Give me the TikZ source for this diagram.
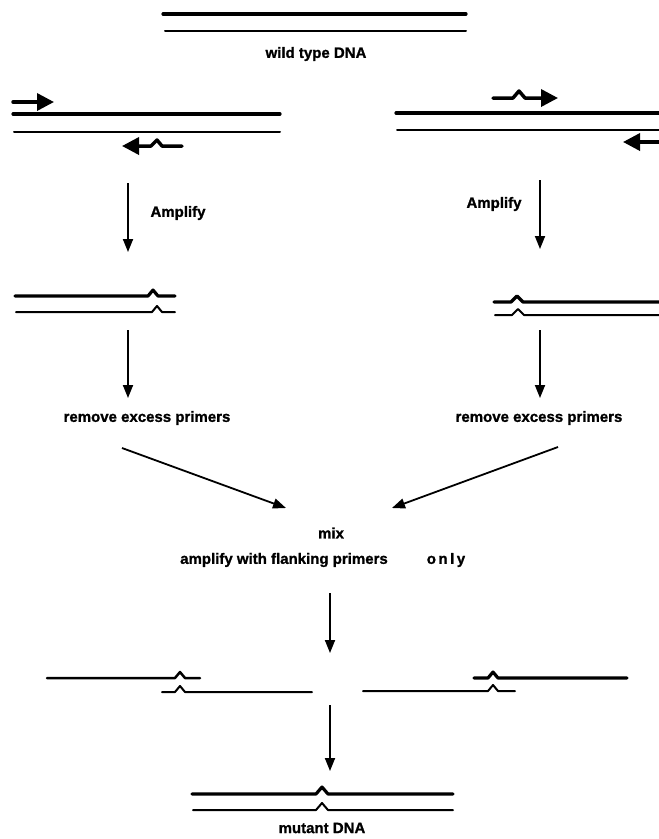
\documentclass[tikz,border=0pt]{standalone}
\usepackage{fontspec}
\setmainfont{Liberation Sans}
\newfontfamily\heavyfont[FakeBold=1.2]{Liberation Sans Bold}
\usetikzlibrary{arrows.meta}
\begin{document}
\begin{tikzpicture}[x=1pt,y=-1pt,
  thickstrand/.style={line width=3.2pt,line cap=round,line join=round},
  thinstrand/.style={line width=2pt,line cap=round,line join=round},
  midstrand/.style={line width=2.5pt,line cap=round,line join=round},
  primer/.style={line width=3.5pt,line cap=round,line join=round,-{Triangle[length=17pt,width=17pt]}},
  flow/.style={line width=1.8pt,-{Triangle[length=13pt,width=10pt]}},
  lbl/.style={font=\heavyfont\fontsize{15}{17}\selectfont,inner sep=0pt}]
\useasboundingbox (0,0) rectangle (659,839);
% wild type
\draw[thickstrand] (163,14) -- (466,14);
\draw[thinstrand] (165,31) -- (466,31);
\node[lbl] (wt) at (316,54) {wild type DNA};
% left primers
\draw[thickstrand] (13,114) -- (280,114);
\draw[thinstrand] (14,132) -- (280,132);
\draw[primer] (13,102) -- (54,102);
\draw[primer] (182,146) -- (162,146) -- (157,140) -- (151,146) -- (122,146);
% right primers
\draw[thickstrand] (396,113) -- (659,113);
\draw[thinstrand] (397,130) -- (659,130);
\draw[primer] (493,98) -- (513,98) -- (519,91) -- (525,98) -- (558,98);
\draw[primer] (662,142) -- (623,142);
% amplify arrows
\coordinate (la1) at (128,183); \coordinate (la2) at (128,252);
\coordinate (ra1) at (540,180); \coordinate (ra2) at (540,249);
\draw[flow] (la1) -- (la2);
\draw[flow] (ra1) -- (ra2);
\node[lbl] (amL) at (178,213) {Amplify};
\node[lbl] (amR) at (494,204) {Amplify};
% left amplified
\draw[thickstrand] (15,296) -- (148,296) -- (153,290) -- (158,296) -- (175,296);
\draw[thinstrand] (16,312) -- (152,312) -- (157,306) -- (162,312) -- (175,312);
% right amplified
\draw[thickstrand] (494,302) -- (511,302) -- (517,296) -- (523,302) -- (659,302);
\draw[thinstrand] (495,315) -- (512,315) -- (518,309) -- (524,315) -- (659,315);
% down arrows
\coordinate (lb1) at (128,330); \coordinate (lb2) at (128,398);
\coordinate (rb1) at (540,330); \coordinate (rb2) at (540,398);
\draw[flow] (lb1) -- (lb2);
\draw[flow] (rb1) -- (rb2);
\node[lbl] (remL) at (147,418) {remove excess primers};
\node[lbl] (remR) at (539,418) {remove excess primers};
% diagonal arrows
\coordinate (dl1) at (122,448); \coordinate (dl2) at (286,508);
\coordinate (dr1) at (558,447); \coordinate (dr2) at (392,508);
\draw[flow] (dl1) -- (dl2);
\draw[flow] (dr1) -- (dr2);
\node[lbl] (mix) at (331,533) {mix};
\node[lbl] (amp) at (284,560) {amplify with flanking primers};
\node[lbl] (only) at (446,560) {o\,n\,l\,y};
% down arrow to bottom
\coordinate (m1) at (330,593); \coordinate (m2) at (330,653);
\draw[flow] (m1) -- (m2);
% bottom left
\draw[midstrand] (47,678) -- (175,678) -- (180,672) -- (185,678) -- (200,678);
\draw[thinstrand] (162,692) -- (175,692) -- (180,686) -- (185,692) -- (312,692);
% bottom right
\draw[thickstrand] (474,678) -- (488,678) -- (493,672) -- (498,678) -- (627,678);
\draw[thinstrand] (363,691) -- (488,691) -- (493,685) -- (498,691) -- (515,691);
% final arrow
\coordinate (n1) at (330,705); \coordinate (n2) at (330,771);
\draw[flow] (n1) -- (n2);
% mutant DNA
\draw[thickstrand] (192,794) -- (316,794) -- (322,787) -- (328,794) -- (453,794);
\draw[thinstrand] (193,810) -- (316,810) -- (322,803) -- (328,810) -- (453,810);
\node[lbl] (mut) at (322,828) {mutant DNA};
\end{tikzpicture}
\end{document}
